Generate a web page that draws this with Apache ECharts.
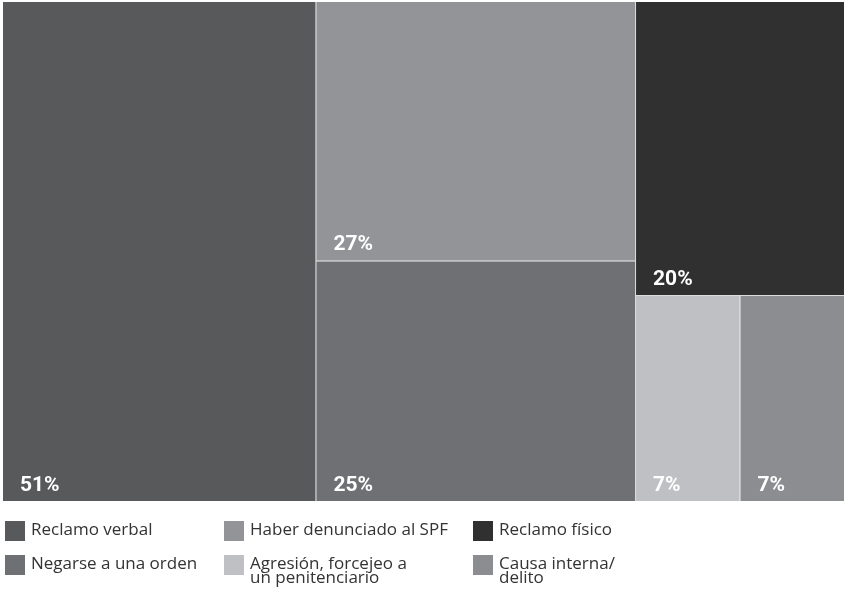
<!DOCTYPE html>
<html>
<head>
<meta charset="utf-8">
<script src="https://cdn.jsdelivr.net/npm/echarts@6/dist/echarts.min.js"></script>
<style>
html, body { margin: 0; padding: 0; background: #fff; }
#chart { width: 844px; height: 591px; }
</style>
</head>
<body>
<div id="chart"></div>
<script>
// motivos de sanción (% de respuestas, respuesta múltiple)
const categories = ['Reclamo verbal', 'Haber denunciado al SPF', 'Negarse a una orden', 'Reclamo físico', 'Agresión, forcejeo a\nun penitenciario', 'Causa interna/\ndelito'];
const values = [51, 27, 25, 20, 7, 7];
const colors = ['#58595b', '#939498', '#6f7073', '#313031', '#bfc0c3', '#8c8d90'];

// orden de la leyenda (3 columnas x 2 filas)
const legendOrder = [0, 1, 3, 2, 4, 5];

const chart = echarts.init(document.getElementById('chart'));

const treeData = categories.map((name, i) => ({
    name: name,
    value: values[i],
    itemStyle: { color: colors[i] }
}));

const legendCols = [5, 224, 473];
const legendRows = [521, 555];
const legendGraphic = [];
legendOrder.forEach((idx, k) => {
    const x = legendCols[k % 3];
    const y = legendRows[Math.floor(k / 3)];
    legendGraphic.push({
        type: 'rect',
        left: x,
        top: y,
        shape: { width: 20, height: 20 },
        style: { fill: colors[idx] }
    });
    legendGraphic.push({
        type: 'text',
        left: x + 26,
        top: y + 1,
        style: {
            text: categories[idx],
            font: '17px "Open Sans"',
            fill: '#333',
            lineHeight: 14
        }
    });
});

const option = {
    backgroundColor: '#fff',
    animation: false,
    series: [{
        type: 'treemap',
        left: 3,
        top: 2,
        right: 0,
        bottom: 90,
        roam: false,
        nodeClick: false,
        breadcrumb: { show: false },
        sort: false,
        squareRatio: 1,
        label: {
            show: true,
            position: 'insideBottomLeft',
            formatter: '{c}%',
            color: '#fff',
            fontFamily: 'Roboto',
            fontWeight: 'bold',
            fontSize: 21,
            distance: 0,
            padding: [0, 0, 5, 17]
        },
        upperLabel: { show: false },
        levels: [{
            itemStyle: { borderWidth: 0, gapWidth: 1, borderColor: '#dcdcdc' }
        }],
        itemStyle: { borderWidth: 0 },
        data: treeData
    }],
    graphic: legendGraphic
};

chart.setOption(option);
</script>
</body>
</html>
